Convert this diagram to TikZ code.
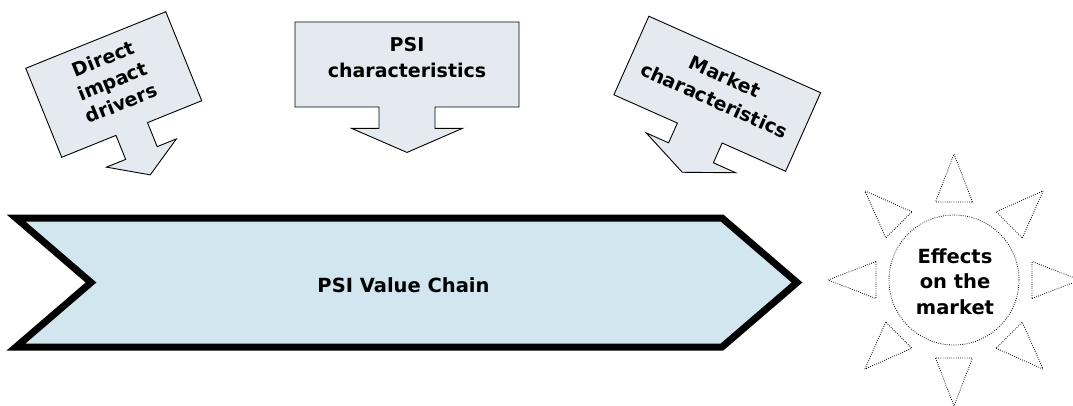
\documentclass[tikz,border=0pt]{standalone}
\usepackage{fontspec}
\usepackage{tikz}
\usetikzlibrary{shapes.arrows,calc}

\newfontfamily\diagfont{DejaVu Sans}
\definecolor{calloutfill}{HTML}{E4EAEF}
\definecolor{chainfill}{HTML}{D2E6EF}

\begin{document}
\begin{tikzpicture}[x=1pt, y=-1pt,
    callout/.style={arrow box, draw, line width=0.9pt, fill=calloutfill, inner sep=0pt},
    calltext/.style={align=center, inner sep=0pt, font=\diagfont\bfseries\fontsize{19}{26.5}\selectfont},
    ray/.style={draw, line width=0.8pt, dash pattern=on 0.8pt off 1.4pt}]
    \useasboundingbox (0,0) rectangle (1073,405);

    % Value chain
    \draw[line width=7pt, line join=miter, fill=chainfill]
        (16,218) -- (722,218) -- (797,282.5) -- (722,347) -- (16,347) -- (91,282.5) -- cycle;
    \node[font=\diagfont\bfseries\fontsize{19.5}{24}\selectfont] (chain) at (403.5,285) {PSI Value Chain};

    % Direct impact drivers
    \node[callout, rotate=22, minimum width=151pt, minimum height=96pt,
        arrow box arrows={south:49pt from border}, arrow box shaft width=34pt,
        arrow box head extend=20.7pt, arrow box tip angle=116]
        (direct) at (113.75,84.5) {};
    \node[calltext, rotate=22, font=\diagfont\bfseries\fontsize{19}{24}\selectfont]
        (directtext) at ($(direct.center)!4pt!(direct.north)$) {Direct\\impact\\drivers};

    % PSI characteristics
    \node[callout, minimum width=224pt, minimum height=85pt,
        arrow box arrows={south:45pt from border}, arrow box shaft width=56pt,
        arrow box head extend=27.5pt, arrow box tip angle=133]
        (psi) at (407,64.5) {};
    \node[calltext] (psitext) at ($(psi.center)!6.8pt!(psi.north)$) {PSI\\characteristics};

    % Market characteristics
    \node[callout, rotate=-24, minimum width=188pt, minimum height=86pt,
        arrow box arrows={south:42.5pt from border}, arrow box shaft width=49pt,
        arrow box head extend=24.5pt, arrow box tip angle=133]
        (market) at (717.25,93.75) {};
    \node[calltext, rotate=-24] (markettext) at ($(market.center)!6pt!(market.north)$) {Market\\characteristics};

    % Effects on the market
    \node[circle, ray, minimum size=130pt, inner sep=0pt] (effects) at (954,280) {};
    \node[calltext, font=\diagfont\bfseries\fontsize{19.5}{25.5}\selectfont]
        (effectstext) at (955,281.5) {Effects\\on the\\market};
    \foreach \a in {0,45,...,315}{
        \begin{scope}[shift={(effects.center)}, rotate=\a]
            \draw[ray] (78pt,-18.5pt) -- (126pt,0pt) -- (78pt,18.5pt) -- cycle;
        \end{scope}
    }
\end{tikzpicture}
\end{document}
